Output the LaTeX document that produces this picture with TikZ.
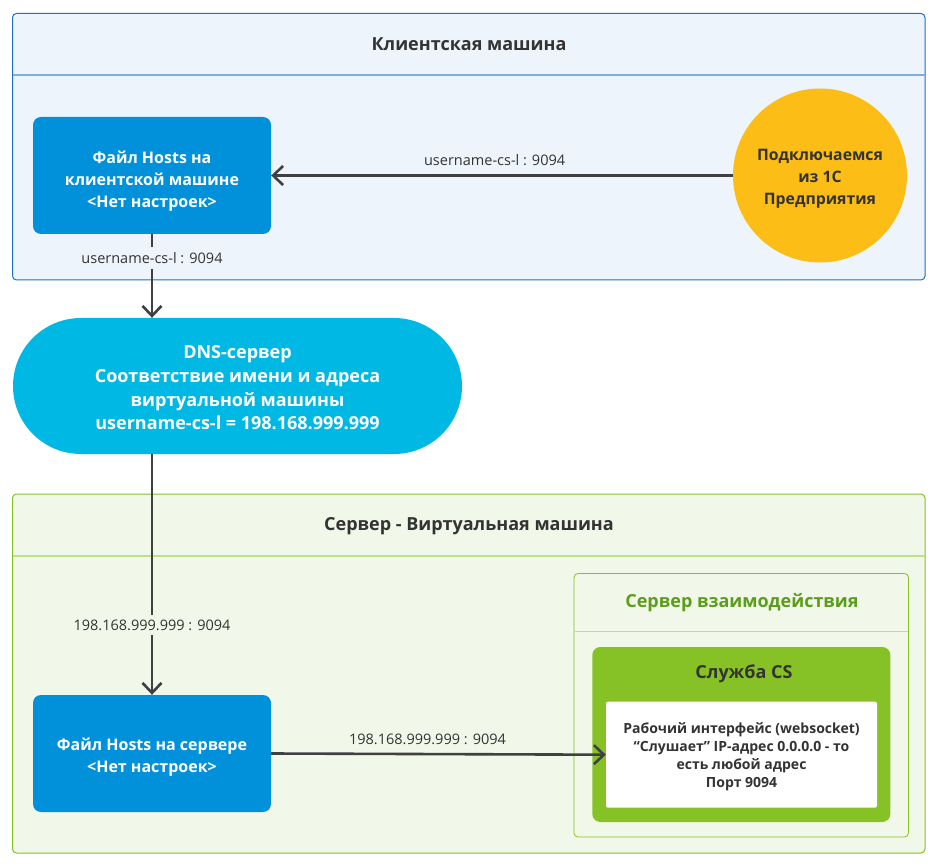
\documentclass[tikz,border=0pt]{standalone}
\usepackage{fontspec}
\setmainfont{Open Sans}
\usetikzlibrary{arrows.meta,shapes.misc}
\definecolor{clientbg}{HTML}{EDF4FB}
\definecolor{clientbd}{HTML}{1F70C1}
\definecolor{clienthd}{HTML}{80AEDD}
\definecolor{serverbg}{HTML}{F1F7E9}
\definecolor{serverbd}{HTML}{86C226}
\definecolor{serverhd}{HTML}{BDE08B}
\definecolor{hostblue}{HTML}{0091DA}
\definecolor{dnsblue}{HTML}{00B8E4}
\definecolor{yellowc}{HTML}{FBBD16}
\definecolor{greenc}{HTML}{86C226}
\definecolor{titlegreen}{HTML}{5A9E1A}
\definecolor{txt}{HTML}{333333}
\definecolor{arr}{HTML}{404040}
\newcommand{\mlines}[2][3.5pt]{\raisebox{-#1}[\height][\depth]{\begin{tabular}{@{}c@{}}#2\end{tabular}}}
\tikzset{
  hostbox/.style={fill=hostblue, draw=none, rounded corners=8pt, minimum width=238pt, minimum height=117pt,
    text=white, font=\bfseries\fontsize{16}{22}\selectfont, inner sep=0pt},
  dnsbox/.style={rounded rectangle, fill=dnsblue, draw=none, minimum width=449pt, minimum height=136pt,
    text=white, font=\bfseries\fontsize{18}{23.8}\selectfont, inner sep=0pt},
  circ/.style={circle, fill=yellowc, draw=none, minimum size=174pt, text=txt,
    font=\bfseries\fontsize{15.8}{21.7}\selectfont, inner sep=0pt},
  greenbox/.style={fill=greenc, draw=none, rounded corners=8pt, minimum width=298pt, minimum height=175pt, inner sep=0pt},
  whitebox/.style={fill=white, draw=none, rounded corners=2pt, minimum width=271pt, minimum height=106pt,
    text=txt, font=\bfseries\fontsize{14}{18}\selectfont, inner sep=0pt},
  title/.style={text=txt, font=\bfseries\fontsize{18}{22}\selectfont},
  conn/.style={draw=arr, line width=2.6pt, -{Straight Barb[length=10pt,width=19pt]}},
  lbl/.style={text=txt, font=\fontsize{14.5}{17}\selectfont, inner xsep=3pt, inner ysep=5pt},
}
\begin{document}
\begin{tikzpicture}[x=1pt,y=-1pt]
\useasboundingbox (0,0) rectangle (937,866);
% client container
\draw[clientbd, fill=clientbg, line width=1pt, rounded corners=4pt] (12.5,13.5) rectangle (925,280);
\draw[clienthd, line width=2pt] (13,75) -- (924.5,75);
\node[title] (ctitle) at (469,44) {Клиентская машина};
% server container
\draw[serverbd, fill=serverbg, line width=1pt, rounded corners=4pt] (12.5,494) rectangle (925,853);
\draw[serverhd, line width=2pt] (13,556) -- (924.5,556);
\node[title] (stitle) at (469,526) {Сервер - Виртуальная машина};
% inner container
\draw[serverbd, fill=serverbg, line width=0.8pt, rounded corners=4pt] (574,573.5) rectangle (908.5,837);
\draw[serverhd, line width=1.5pt] (574.5,631.5) -- (908,631.5);
\node[text=titlegreen, font=\bfseries\fontsize{18}{22}\selectfont] (ititle) at (742,603) {Сервер взаимодействия};
% nodes
\node[hostbox] (h1) at (152,175.5) {\mlines[5.2pt]{Файл Hosts на\\клиентской машине\\<Нет настроек>}};
\node[circ] (c1) at (820,175.5) {\mlines[2.6pt]{Подключаемся\\из 1С\\Предприятия}};
\node[dnsbox] (dns) at (237.5,386) {\mlines[3.4pt]{DNS-сервер\\Соответствие имени и адреса\\виртуальной машины\\username-cs-l = 198.168.999.999}};
\node[hostbox] (h2) at (152,753.5) {\mlines[4pt]{Файл Hosts на сервере\\<Нет настроек>}};
\node[greenbox] (gb) at (741.3,734.5) {};
\node[title] (gtitle) at (744,674) {Служба CS};
\node[whitebox] (wb) at (741.5,754.7) {\mlines[2pt]{Рабочий интерфейс (websocket)\\“Слушает” IP-адрес 0.0.0.0 - то\\есть любой адрес\\Порт 9094}};
% connectors
\draw[conn] (c1.west) -- node[lbl, pos=0.516, yshift=15pt] (l1) {username-cs-l : 9094} (h1.east);
\draw[conn] (h1.south) -- node[lbl, pos=0.286, fill=clientbg] (l2) {username-cs-l : 9094} (h1.south |- dns.north);
\draw[conn] (h1.south |- dns.south) -- node[lbl, pos=0.71, fill=serverbg] (l3) {198.168.999.999 : 9094} (h2.north);
\draw[conn] (h2.east) -- node[lbl, pos=0.467, yshift=15pt] (l4) {198.168.999.999 : 9094} (wb.west);
\end{tikzpicture}
\end{document}
